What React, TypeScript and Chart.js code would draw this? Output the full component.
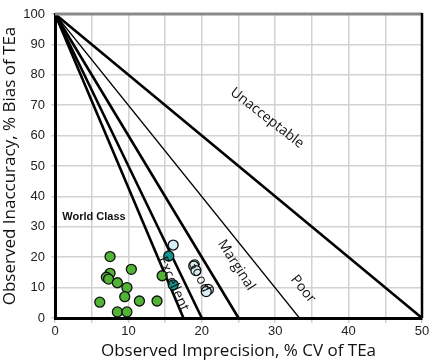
import React, { useEffect, useRef } from "react";
import { Chart, registerables } from "chart.js";

Chart.register(...registerables);

// Decision-line x-intercepts (% CV of TEa), all lines start at (0, 100)
const lineIntercepts = [17.5, 20, 25, 33.3, 50];
const lineWidths = [2.6, 2.6, 2.6, 1.2, 2.6];

// World class (green) points
const greenX = [7.5, 10.4, 7.5, 7.0, 7.3, 8.5, 9.8, 9.5, 6.1, 11.5, 13.9, 14.6, 8.5, 9.8];
const greenY = [20.2, 16.0, 14.7, 13.4, 12.8, 11.6, 10.0, 7.0, 5.2, 5.6, 5.6, 13.9, 2.0, 2.0];

// Excellent (teal) points
const tealX = [15.5, 16.1];
const tealY = [20.4, 10.9];

// Good (light blue) points
const lightX = [16.1, 18.9, 19.2, 20.9, 20.6];
const lightY = [24.0, 17.1, 15.6, 9.4, 8.7];

const xTicks = [0, 10, 20, 30, 40, 50];

const zoneLabels = [
  { text: "Unacceptable", x: 28.9, y: 65.8, angle: 38, size: 14 },
  { text: "Poor", x: 33.8, y: 9.5, angle: 51, size: 14 },
  { text: "Marginal", x: 24.7, y: 17.4, angle: 57, size: 14 },
  { text: "Good", x: 19.6, y: 14.0, angle: 64, size: 14 },
  { text: "Excellent", x: 16.1, y: 11.2, angle: 66, size: 14 },
];

const toPts = (xs: number[], ys: number[]) => xs.map((x, i) => ({ x, y: ys[i] }));

const annotPlugin = {
  id: "annot",
  afterDatasetsDraw(chart: any) {
    const { ctx, chartArea, scales } = chart;
    const xs = scales.x;
    const ys = scales.y;
    ctx.save();
    // top border (gray) and right border (black)
    ctx.strokeStyle = "#8a8a8a";
    ctx.lineWidth = 3;
    ctx.beginPath();
    ctx.moveTo(chartArea.left, chartArea.top);
    ctx.lineTo(chartArea.right, chartArea.top);
    ctx.stroke();
    ctx.strokeStyle = "#000";
    ctx.lineWidth = 2.5;
    ctx.beginPath();
    ctx.moveTo(chartArea.right, chartArea.top - 1);
    ctx.lineTo(chartArea.right, chartArea.bottom);
    ctx.stroke();

    ctx.fillStyle = "#111";
    ctx.textAlign = "center";
    ctx.textBaseline = "middle";
    for (const l of zoneLabels) {
      ctx.save();
      ctx.translate(xs.getPixelForValue(l.x), ys.getPixelForValue(l.y));
      ctx.rotate((l.angle * Math.PI) / 180);
      ctx.font = `${l.size}px "Open Sans"`;
      ctx.fillText(l.text, 0, 0);
      ctx.restore();
    }
    ctx.font = 'bold 11px "Liberation Sans"';
    ctx.textAlign = "left";
    ctx.fillText("World Class", xs.getPixelForValue(1), ys.getPixelForValue(33.2));
    ctx.restore();
  },
};

export default function App() {
  const ref = useRef<HTMLCanvasElement | null>(null);
  useEffect(() => {
    document.body.style.margin = "0";
    if (!ref.current) return;
    const lineSets = lineIntercepts.map((xi, i) => ({
      type: "scatter" as const,
      data: [
        { x: 0, y: 100 },
        { x: xi, y: 0 },
      ],
      showLine: true,
      borderColor: "#000",
      borderWidth: lineWidths[i],
      pointRadius: 0,
      order: 2,
    }));
    const pointSet = (xs: number[], ys: number[], color: string) => ({
      type: "scatter" as const,
      data: toPts(xs, ys),
      backgroundColor: color,
      borderColor: "#111",
      borderWidth: 1.3,
      pointRadius: 5,
      showLine: false,
      order: 1,
    });
    const chart = new Chart(ref.current, {
      type: "scatter",
      data: {
        datasets: [
          ...lineSets,
          pointSet(greenX, greenY, "#52b435"),
          pointSet(tealX, tealY, "#14958f"),
          pointSet(lightX, lightY, "#d6eff5"),
        ] as any,
      },
      options: {
        animation: false,
        responsive: false,
        clip: false as any,
        layout: { padding: { top: 14, right: 13, left: 0, bottom: 0 } },
        plugins: { legend: { display: false }, tooltip: { enabled: false } },
        scales: {
          x: {
            type: "linear",
            min: 0,
            max: 50,
            ticks: {
              stepSize: 5,
              autoSkip: false,
              maxRotation: 0,
              padding: 1,
              color: "#222",
              font: { family: "Liberation Sans", size: 13 },
              callback: (v: any) => (xTicks.includes(Number(v)) ? String(v) : ""),
            },
            grid: { color: "#d2d2d2", lineWidth: 1.5, tickLength: 5 },
            border: { color: "#000", width: 3 },
            title: {
              display: true,
              text: "Observed Imprecision, % CV of TEa",
              color: "#111",
              font: { family: "Open Sans", size: 17 },
              padding: { top: 0, bottom: 0 },
            },
            afterFit: (s: any) => {
              s.height = 43;
            },
          },
          y: {
            type: "linear",
            min: 0,
            max: 100,
            ticks: {
              stepSize: 10,
              padding: 6,
              color: "#222",
              font: { family: "Liberation Sans", size: 13 },
            },
            grid: { color: "#d2d2d2", lineWidth: 1.5, tickLength: 4 },
            border: { color: "#000", width: 3 },
            title: {
              display: true,
              text: "Observed Inaccuracy, % Bias of TEa",
              color: "#111",
              font: { family: "Open Sans", size: 17 },
              padding: { top: 0, bottom: 0 },
            },
            afterFit: (s: any) => {
              s.width = 55;
            },
          },
        },
      },
      plugins: [annotPlugin],
    });
    return () => chart.destroy();
  }, []);
  return (
    <div style={{ width: 435, height: 361 }}>
      <canvas ref={ref} width={435} height={361} style={{ display: "block" }} />
    </div>
  );
}
